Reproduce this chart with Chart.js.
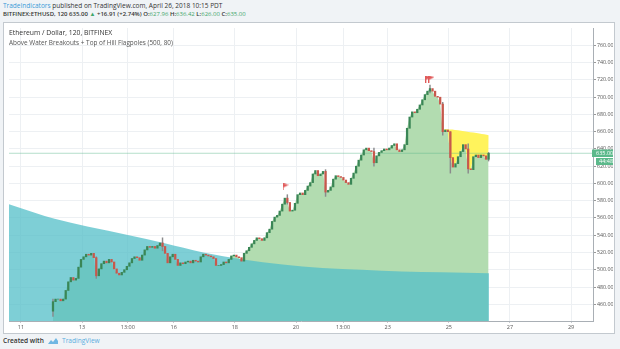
<!DOCTYPE html>
<html lang="en">
<head>
<meta charset="UTF-8">
<title>ETHUSD 120 - Above Water Breakouts</title>
<script src="https://cdn.jsdelivr.net/npm/chart.js@4.4.1/dist/chart.umd.min.js"></script>
<style>
  body { margin: 0; width: 620px; height: 349px; background: #f0f3f6; font-family: "Open Sans", sans-serif; position: relative; overflow: hidden; }
  .line1, .line2, .footer { position: absolute; left: 3px; white-space: nowrap; color: #333; }
  .line1 { top: 1px; font-size: 6.5px; }
  .line2 { top: 10px; font-size: 6px; font-weight: 600; }
  .blue { color: #3a9ad6; }
  .up { color: #3fa66a; font-weight: 400; }
  #frame { position: absolute; left: 3px; top: 22px; width: 610px; height: 310px; background: #fff; border: 1px solid #c3c9cf; }
  #chart { position: absolute; left: 0; top: 0; }
  .title1, .title2 { position: absolute; left: 5px; white-space: nowrap; }
  .title1 { top: 5px; font-size: 6.8px; color: #333; }
  .title2 { top: 15px; font-size: 6.4px; color: #555; }
  .footer { top: 336px; font-size: 6.6px; font-weight: 600; }
  .footer svg { position: absolute; left: 44px; top: 1px; }
  .footer .tv { position: absolute; left: 59px; top: 0; color: #5aaedf; font-weight: 400; }
</style>
</head>
<body>
  <div class="line1"><span class="blue">TradeIndicators</span> published on TradingView.com, April 26, 2018 10:15 PDT</div>
  <div class="line2">BITFINEX:ETHUSD, 120 635.00 <span class="up">&#9650;</span> +16.91 (+2.74%) O:<span class="up">627.96</span> H:<span class="up">636.42</span> L:<span class="up">626.00</span> C:<span class="up">635.00</span></div>

  <div id="frame">
    <canvas id="chart" width="609" height="309"></canvas>
    <div class="title1">Ethereum / Dollar, 120, BITFINEX</div>
    <div class="title2">Above Water Breakouts + Top of Hill Flagpoles (500, 80)</div>
  </div>

  <div class="footer">Created with
    <svg width="12" height="8" viewBox="0 0 12 8"><path d="M1 7 L4 3 L6 5 L9 1 L11 4 L11 7 Z" fill="#6fb7e3"/></svg>
    <span class="tv">TradingView</span>
  </div>

<script>
// x positions are in days of April 2018
const xMin = 10.611;
const xMax = 29.716;
const yMin = 440.6;
const yMax = 780.2;

const tickDays = [11, 13, 14.5, 16, 18, 20, 21.54, 23, 25, 27, 29];
const tickLabels = ['11', '13', '13:00', '16', '18', '20', '13:00', '23', '25', '27', '29'];
const priceTicks = [460, 480, 500, 520, 540, 560, 580, 600, 620, 640, 660, 680, 700, 720, 740, 760];

// 2-hour bars
const barStart = 12.05;
const barStep = 1 / 12;
const firstOpen = 452;
const closes = [
  463, 466, 466, 464, 466, 476, 486, 491, 488, 490,
  503, 512, 515, 518, 517, 519, 514, 493, 501, 507,
  510, 508, 512, 509, 501, 496, 494, 497, 500, 504,
  508, 513, 515, 514, 511, 517, 523, 527, 526, 527,
  525, 528, 531, 527, 519, 508, 515, 518, 512, 505,
  508, 507, 509, 510, 508, 511, 510, 509, 515, 518,
  517, 516, 515, 513, 505, 505, 506, 509, 508, 512,
  516, 517, 515, 514, 510, 519, 522, 526, 530, 534,
  537, 536, 534, 537, 543, 547, 556, 561, 563, 568,
  576, 583, 578, 568, 569, 577, 587, 589, 587, 592,
  597, 601, 611, 615, 609, 611, 614, 590, 592, 596,
  605, 609, 608, 607, 604, 601, 599, 606, 612, 620,
  627, 633, 639, 641, 638, 637, 624, 632, 636, 638,
  640, 639, 641, 644, 646, 639, 637, 639, 645, 664,
  677, 683, 682, 686, 691, 697, 703, 707, 710, 707,
  701, 700, 692, 660, 662, 660, 630, 619, 623, 631,
  637, 645, 640, 617, 616, 631, 633, 630, 633, 632,
  628, 635
];

// [bar index, low, high] for the longer wicks
const wicks = [
  [0, 446, 466], [17, 490, 515], [43, 522, 537], [92, 576, 587],
  [107, 585, 616], [126, 620, 641], [148, 705, 714], [153, 656, 694],
  [156, 612, 660], [163, 612, 646], [171, 626, 636]
];

// "water" level
const waterDays = [10.611, 11.454, 12.103, 13.173, 14.535, 15.671, 16.968, 18.266, 19.563, 20.860, 22.158, 23.455, 24.753, 26.31];
const waterLevel = [576, 566, 559, 550, 540, 531, 520, 512, 506, 502, 500, 498, 497, 496];

// top of hill band
const hillDays = [24.85, 25.2, 25.6, 26.0, 26.31];
const hillLevel = [663, 662, 660, 658, 656];

// flagpoles
const flagDays = [19.66, 24.33, 24.43];
const flagLevel = [596, 721, 721];

const lastClose = 635;

const opens = closes.map((c, i) => i === 0 ? firstOpen : closes[i - 1]);
const barDays = closes.map((c, i) => barStart + i * barStep);

function makeFlag() {
  const c = document.createElement('canvas');
  c.width = 6; c.height = 7;
  const g = c.getContext('2d');
  g.fillStyle = '#e05a5a';
  g.fillRect(0, 0, 1, 7);
  g.beginPath();
  g.moveTo(1, 0); g.lineTo(6, 1.5); g.lineTo(1, 4); g.closePath();
  g.fill();
  return c;
}

const lastPriceLabel = {
  id: 'lastPriceLabel',
  afterDraw(chart) {
    const { ctx, chartArea, scales: { y } } = chart;
    const py = Math.round(y.getPixelForValue(lastClose));
    ctx.save();
    ctx.fillStyle = '#5cb98b';
    ctx.fillRect(chartArea.right - 1, py - 3.5, 22, 7.5);
    ctx.fillRect(chartArea.right + 3, py + 5, 18, 7);
    ctx.fillStyle = '#fff';
    ctx.font = '5.5px "Open Sans"';
    ctx.textBaseline = 'middle';
    ctx.fillText(lastClose.toFixed(2), chartArea.right + 3, py + 0.5);
    ctx.fillText('44:48', chartArea.right + 6, py + 8.7);
    ctx.restore();
  }
};

new Chart(document.getElementById('chart'), {
  type: 'bar',
  data: {
    datasets: [
      {
        label: 'ETHUSD',
        order: 1,
        grouped: false,
        barThickness: 1.6,
        data: barDays.map((d, i) => ({ x: d, y: [opens[i], closes[i]] })),
        backgroundColor: closes.map((c, i) => c >= opens[i] ? '#3a8656' : '#c8584b')
      },
      {
        label: 'wicks',
        order: 2,
        grouped: false,
        barThickness: 0.8,
        data: wicks.map(w => ({ x: barDays[w[0]], y: [w[1], w[2]] })),
        backgroundColor: '#8a8a8c'
      },
      {
        type: 'line',
        label: 'flags',
        order: 0,
        showLine: false,
        data: flagDays.map((d, i) => ({ x: d, y: flagLevel[i] })),
        pointStyle: makeFlag(),
        pointRadius: 4
      },
      {
        type: 'line',
        label: 'last',
        order: 3,
        data: [{ x: xMin, y: lastClose }, { x: xMax, y: lastClose }],
        borderColor: 'rgba(92,185,139,0.45)',
        borderWidth: 1,
        pointRadius: 0
      },
      {
        type: 'line',
        label: 'hill',
        order: 4,
        data: hillDays.map((d, i) => ({ x: d, y: hillLevel[i] })),
        borderColor: 'transparent',
        pointRadius: 0,
        tension: 0.3,
        fill: { target: 6, above: '#fff35c', below: '#fff35c' }
      },
      {
        type: 'line',
        label: 'water',
        order: 5,
        data: waterDays.map((d, i) => ({ x: d, y: waterLevel[i] })),
        borderColor: 'transparent',
        backgroundColor: 'rgba(83,191,200,0.75)',
        pointRadius: 0,
        cubicInterpolationMode: 'monotone',
        fill: 'start'
      },
      {
        type: 'line',
        label: 'area',
        order: 6,
        data: barDays.map((d, i) => ({ x: d, y: closes[i] })),
        borderColor: 'transparent',
        backgroundColor: '#b2dcb0',
        pointRadius: 0,
        fill: 'start'
      }
    ]
  },
  options: {
    responsive: false,
    animation: false,
    layout: { padding: 0 },
    plugins: { legend: { display: false }, tooltip: { enabled: false } },
    scales: {
      x: {
        type: 'linear',
        min: xMin,
        max: xMax,
        offset: false,
        grid: { color: '#edf0f3', tickLength: 2, offset: false, tickColor: '#c8ccd0' },
        border: { color: '#a9afb5' },
        ticks: {
          color: '#555',
          font: { family: 'Open Sans', size: 5.5 },
          padding: 1,
          maxRotation: 0,
          autoSkip: false,
          callback: (v, i) => tickLabels[i]
        },
        afterBuildTicks(s) { s.ticks = tickDays.map(v => ({ value: v })); },
        afterFit(s) { s.height = 11; }
      },
      y: {
        position: 'right',
        min: yMin,
        max: yMax,
        grid: { color: '#edf0f3', tickLength: 3, tickColor: '#999' },
        border: { color: '#a9afb5' },
        ticks: {
          color: '#555',
          font: { family: 'Open Sans', size: 5.3 },
          padding: 1,
          autoSkip: false,
          callback: v => v.toFixed(2)
        },
        afterBuildTicks(s) { s.ticks = priceTicks.map(v => ({ value: v })); },
        afterFit(s) { s.width = 20; }
      }
    }
  },
  plugins: [lastPriceLabel]
});
</script>
</body>
</html>
